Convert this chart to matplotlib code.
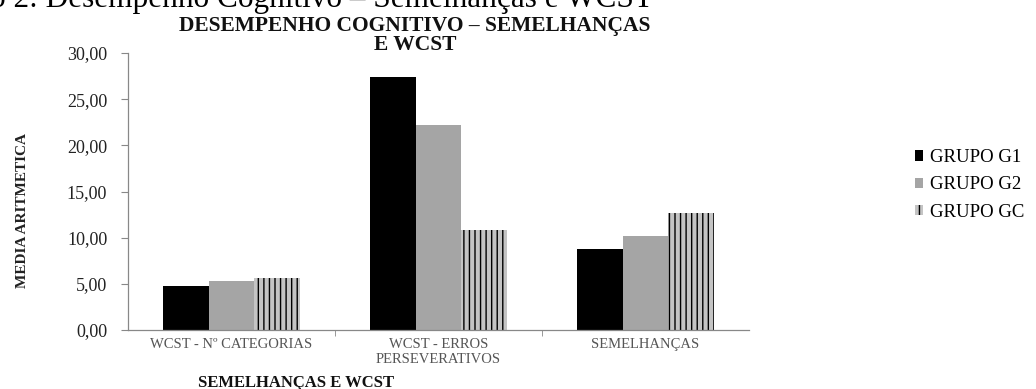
import matplotlib
matplotlib.use("Agg")
import matplotlib.pyplot as plt
import numpy as np

plt.rcParams['font.family'] = ['Liberation Serif', 'DejaVu Serif']
plt.rcParams['hatch.linewidth'] = 1.0

categories = ["WCST - Nº CATEGORIAS", "WCST - ERROS\nPERSEVERATIVOS", "SEMELHANÇAS"]
series_names = ["GRUPO G1", "GRUPO G2", "GRUPO GC"]
grupo_g1 = [4.77, 27.40, 8.80]
grupo_g2 = [5.30, 22.20, 10.20]
grupo_gc = [5.60, 10.80, 12.70]
y_ticks = [0, 5, 10, 15, 20, 25, 30]

W, H = 1036, 389
fig = plt.figure(figsize=(W / 100, H / 100), dpi=100)
ax = fig.add_axes([128 / W, 1 - 330 / H, (749 - 128) / W, (330 - 53) / H])

x = np.arange(len(categories))
bw = 0.222
styles = [
    dict(color="black"),
    dict(color="#a5a5a5"),
    dict(facecolor="#c4c4c4", edgecolor="black", hatch="|||", linewidth=0),
]
handles = []
for i, (vals, st) in enumerate(zip([grupo_g1, grupo_g2, grupo_gc], styles)):
    b = ax.bar(x + (i - 1) * bw, vals, bw, label=series_names[i], **st)
    handles.append(b)

ax.set_xlim(-0.5, len(categories) - 0.5)
ax.set_ylim(0, 30)
ax.set_yticks(y_ticks)
ax.set_yticklabels([f"{v:.2f}".replace(".", ",") for v in y_ticks],
                   fontsize=13, color="#222222")
ax.tick_params(axis="y", length=5, width=0.8, color="#888888", pad=10)

ax.set_xticks(x)
ax.set_xticklabels(categories, fontsize=10.5, color="#555555", linespacing=1.15)
ax.tick_params(axis="x", length=0, pad=6)
# category separator ticks
ax.set_xticks([0.5, 1.5], minor=True)
ax.tick_params(axis="x", which="minor", length=4, color="#888888", direction="out")

for s in ["top", "right"]:
    ax.spines[s].set_visible(False)
for s in ["left", "bottom"]:
    ax.spines[s].set_color("#888888")
    ax.spines[s].set_linewidth(0.9)

fig.text(23 / W, 1 - 210 / H, "MEDIA ARITMETICA", fontsize=11, fontweight="bold",
         rotation=90, ha="center", va="center", color="#222222")

fig.text(296 / W, 1 - 375 / H, "SEMELHANÇAS E WCST", fontsize=12, fontweight="bold",
         ha="center", va="top", color="#111111")

fig.text(415 / W, 1 - 16 / H, "DESEMPENHO COGNITIVO – SEMELHANÇAS\nE WCST", fontsize=15.5,
         fontweight="bold", ha="center", va="top", linespacing=0.95, color="#111111")

fig.text(-10 / W, 1 - 7 / H, "o 2: Desempenho Cognitivo – Semelhanças e WCST",
         fontsize=22.5, ha="left", va="baseline", color="black")

fig.legend(handles=handles, labels=series_names, loc="center left",
           bbox_to_anchor=(915 / W, 1 - 185 / H), frameon=False, fontsize=13.5,
           handlelength=0.45, handleheight=0.45, handletextpad=0.35,
           labelspacing=0.55, borderpad=0, borderaxespad=0)

fig.savefig("out.png", dpi=100)
